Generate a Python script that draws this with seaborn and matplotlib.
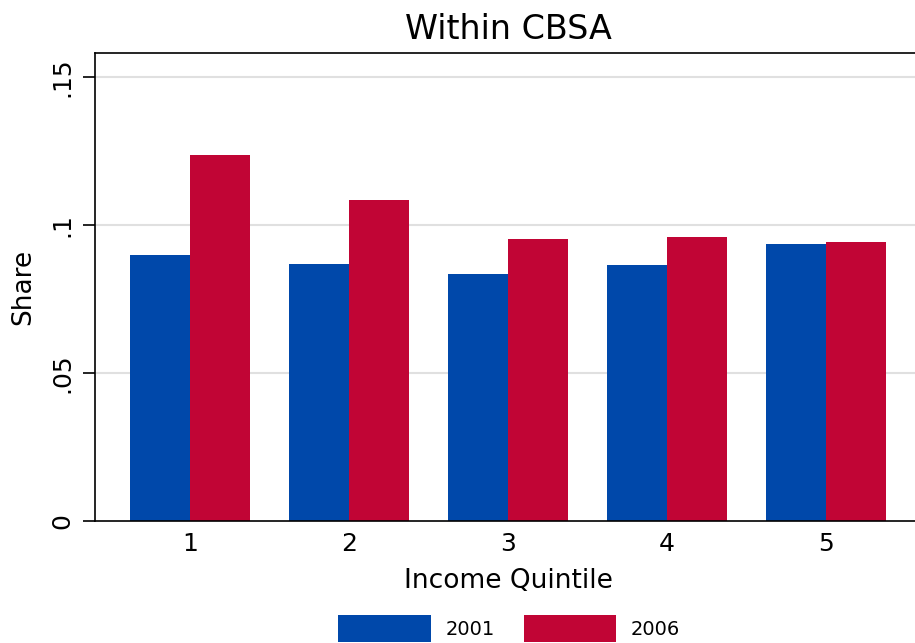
import pandas as pd
import seaborn as sns
import matplotlib.pyplot as plt

# Values
quintiles = ["1", "2", "3", "4", "5"]
share_2001 = [0.0900, 0.0869, 0.0834, 0.0866, 0.0934]
share_2006 = [0.1235, 0.1084, 0.0953, 0.0959, 0.0943]
years = ["2001", "2006"]
y_ticks = [0, 0.05, 0.1, 0.15]
y_tick_labels = ["0", ".05", ".1", ".15"]

# Long format for seaborn
df = pd.DataFrame({
    "quintile": quintiles * 2,
    "share": share_2001 + share_2006,
    "year": [years[0]] * 5 + [years[1]] * 5,
})

sns.set_style("white")
plt.rcParams["font.family"] = ["DejaVu Sans"]
plt.rcParams["text.color"] = "black"
plt.rcParams["axes.labelcolor"] = "black"
plt.rcParams["xtick.color"] = "black"
plt.rcParams["ytick.color"] = "black"

fig = plt.figure(figsize=(9.15, 6.43), dpi=100)
ax = fig.add_axes([95 / 915, 1 - 521.3 / 643, 826 / 915, 468.6 / 643])

sns.barplot(
    data=df, x="quintile", y="share", hue="year",
    palette=["#0048AA", "#C10535"], saturation=1, width=0.755, gap=0,
    linewidth=0, ax=ax, legend=True,
)

ax.set_xlim(-0.6, 4.6)
ax.set_ylim(0, 0.1581)
ax.set_yticks(y_ticks)
ax.set_yticklabels(y_tick_labels, rotation=90, va="center")
ax.grid(axis="y", color="#e0e0e0", linewidth=1.5)
ax.set_axisbelow(True)
for g in ax.get_ygridlines()[:1]:
    g.set_visible(False)

ax.tick_params(axis="y", length=9, width=1.2, labelsize=18, pad=6, left=True)
ax.tick_params(axis="x", length=0, labelsize=18, pad=8)
for side in ["left", "bottom", "top"]:
    ax.spines[side].set_color("black")
    ax.spines[side].set_linewidth(1.2)
ax.spines["right"].set_visible(False)

ax.set_title("Within CBSA", fontsize=24, pad=10, color="black")
ax.set_xlabel("Income Quintile", fontsize=19, labelpad=8)
ax.set_ylabel("Share", fontsize=19, labelpad=10)

handles, labels = ax.get_legend_handles_labels()
ax.get_legend().remove()
fig.legend(
    handles, labels, loc="center", bbox_to_anchor=(509 / 915, 0.0225),
    ncol=2, frameon=False, fontsize=14, handlelength=4.75, handleheight=1.75,
    handletextpad=0.75, columnspacing=1.5, borderpad=0,
)

fig.savefig("out.png", dpi=100)
